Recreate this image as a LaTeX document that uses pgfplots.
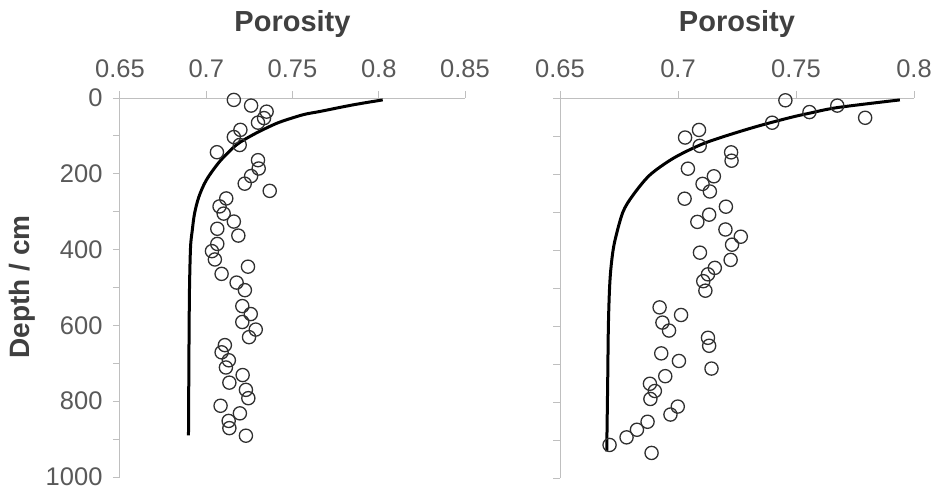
\documentclass[border=0pt]{standalone}
\usepackage{pgfplots}
\pgfplotsset{compat=1.18}
\usepackage{fontspec}
\setmainfont{Liberation Sans}
\definecolor{tickgray}{HTML}{595959}
\definecolor{titlegray}{HTML}{404040}
\definecolor{axgray}{HTML}{BFBFBF}
\definecolor{markgray}{HTML}{303030}
\begin{document}
\begin{tikzpicture}[x=1pt,y=1pt]
\pgfplotsset{
  myaxis/.style={
    scale only axis,
    y dir=reverse,
    ymin=0, ymax=1000,
    xmin=0.65,
    axis x line*=top, axis y line*=left,
    axis line style={axgray, line width=1pt},
    every tick/.style={axgray, line width=1pt},
    major tick length=7pt,
    tick align=outside,
    ytick={0,100,...,1000},
    tick label style={font=\fontsize{25.5}{30}\selectfont, text=tickgray},
    xticklabel style={yshift=10pt},
    yticklabel style={xshift=-7pt},
    clip=false,
  },
  pts/.style={only marks, mark=o, mark size=6.6pt, mark options={draw=markgray, line width=1.3pt}},
  fit/.style={no marks, black, line width=3pt, smooth, tension=0.5},
}
\begin{axis}[myaxis, at={(120pt,-98pt)}, anchor=north west, width=345pt, height=379pt,
  xmax=0.85, xtick={0.65,0.7,0.75,0.8,0.85}, xticklabels={0.65,0.7,0.75,0.8,0.85},
  yticklabels={0,,200,,400,,600,,800,,1000}]
\addplot[pts] coordinates {
(0.716,5) (0.726,20) (0.735,36) (0.7335,53) (0.730,65) (0.7198,84) (0.716,103)
(0.7194,124) (0.7062,143) (0.730,164) (0.7304,186) (0.726,206) (0.7223,226)
(0.7368,245) (0.7116,265) (0.7077,286) (0.7101,305) (0.716,326) (0.7064,345)
(0.7186,363) (0.7064,385) (0.7033,404) (0.7050,426) (0.7242,445) (0.7089,464)
(0.7176,487) (0.7224,507) (0.7209,549) (0.7258,570) (0.7209,591) (0.7287,611)
(0.7248,631) (0.7108,652) (0.7089,671) (0.7131,692) (0.7114,711) (0.7211,731)
(0.7134,751) (0.7230,770) (0.7244,792) (0.7083,812) (0.7195,832) (0.7130,852)
(0.7134,871) (0.7230,891)
};
\addplot[fit] coordinates {
(0.8023,5) (0.7852,18) (0.7659,35.5) (0.7562,44) (0.7436,62) (0.7368,75)
(0.7271,97) (0.7174,124) (0.7077,168) (0.700,217) (0.6957,261) (0.6932,305)
(0.6919,349) (0.6909,393) (0.6903,500) (0.6900,650) (0.6897,890)
};
\end{axis}
\begin{axis}[myaxis, at={(560pt,-98pt)}, anchor=north west, width=354pt, height=380pt,
  xmax=0.8, xtick={0.65,0.7,0.75,0.8}, xticklabels={0.65,0.7,0.75,0.8},
  yticklabels={}]
\addplot[pts] coordinates {
(0.7455,6) (0.7675,20) (0.7557,37) (0.7793,52) (0.7399,65) (0.7089,84)
(0.7030,104) (0.7092,126) (0.7225,143) (0.7227,165) (0.7042,186) (0.7152,206)
(0.7104,226) (0.7135,246) (0.7028,265) (0.7203,286) (0.7132,307) (0.7082,326)
(0.7201,346) (0.7266,365) (0.7229,386) (0.7093,407) (0.7223,426) (0.7156,447)
(0.7127,464) (0.7107,482) (0.7116,507) (0.6922,551) (0.7013,571) (0.6934,591)
(0.6962,612) (0.7127,631) (0.7132,652) (0.6929,672) (0.7004,692) (0.7142,712)
(0.6946,732) (0.6881,752) (0.6902,771) (0.6883,792) (0.6999,812) (0.6968,833)
(0.6871,852) (0.6826,873) (0.6782,893) (0.6710,913) (0.6888,934)
};
\addplot[fit] coordinates {
(0.794,5) (0.7677,25) (0.7557,40) (0.7475,51.5) (0.7333,75) (0.7191,102)
(0.7092,124) (0.6979,159) (0.688,203) (0.6809,256) (0.6766,301) (0.6731,380)
(0.6717,440) (0.6710,500) (0.6705,600) (0.6702,750) (0.6698,930)
};
\end{axis}
\node[anchor=base, font=\bfseries\fontsize{29}{34}\selectfont, text=titlegray] at (292.5,-31) {Porosity};
\node[anchor=base, font=\bfseries\fontsize{29}{34}\selectfont, text=titlegray] at (737,-31) {Porosity};
\node[rotate=90, anchor=base, font=\bfseries\fontsize{28}{34}\selectfont, text=titlegray] at (29,-287) {Depth / cm};
\pgfresetboundingbox
\useasboundingbox (0,0) rectangle (935,-491);
\end{tikzpicture}
\end{document}
